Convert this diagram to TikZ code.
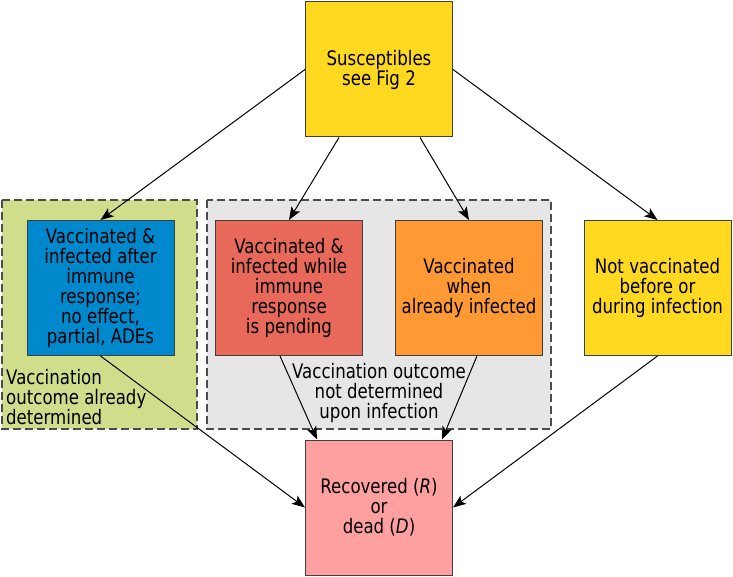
\documentclass[tikz,border=0pt]{standalone}
\usepackage{fontspec}
\setmainfont{DejaVu Sans}[FakeStretch=0.83]
\usetikzlibrary{arrows.meta}

\definecolor{susyellow}{HTML}{FFD820}
\definecolor{vacblue}{HTML}{0088CC}
\definecolor{vacred}{HTML}{E8685A}
\definecolor{vacorange}{HTML}{FF9933}
\definecolor{recpink}{HTML}{FFA0A0}
\definecolor{greenarea}{HTML}{D0DE8C}
\definecolor{grayarea}{HTML}{E6E6E6}

\begin{document}
\begin{tikzpicture}[x=1pt, y=-1pt,
        box/.style={draw=black!75, line width=1pt, minimum width=147pt, minimum height=135pt,
            inner sep=0pt, align=center, font=\fontsize{20}{20}\selectfont},
        arr/.style={-{Stealth[length=13pt, width=10pt, inset=3pt]}, line width=1pt},
        area/.style={draw=black!70, line width=1.3pt, dash pattern=on 8pt off 4pt},
        note/.style={inner sep=0pt, font=\fontsize{20}{20}\selectfont}]
        \useasboundingbox (0, 0) rectangle (733, 577);

        % Draw outcome areas
        \filldraw[fill=greenarea, area] (2, 200) rectangle (197, 429);
        \filldraw[fill=grayarea, area] (207, 200) rectangle (551, 429);

        % Draw boxes
        \node[box, fill=susyellow] (sus) at (379, 69.5) {Susceptibles\\see Fig 2};
        \node[box, fill=vacblue] (after) at (100.5, 288) {Vaccinated \&\\infected after\\immune\\response;\\no effect,\\partial, ADEs};
        \node[box, fill=vacred] (pending) at (289, 288) {Vaccinated \&\\infected while\\immune\\response\\is pending};
        \node[box, fill=vacorange] (when) at (469, 288) {Vaccinated\\when\\already infected};
        \node[box, fill=susyellow] (notvac) at (657.5, 288) {Not vaccinated\\before or\\during infection};
        \node[box, fill=recpink] (rec) at (379, 507.5) {Recovered (\textit{R})\\or\\dead (\textit{D})};

        % Add area labels
        \node[note, anchor=west, align=left] (determined) at (6, 397) {Vaccination\\outcome already\\determined};
        \node[note, align=center] (undetermined) at (379, 393) {Vaccination outcome\\not determined\\upon infection};

        % Draw arrows
        \draw[arr] (sus.west) -- (after.north);
        \draw[arr] ([xshift=-40pt]sus.south) -- (pending.north);
        \draw[arr] ([xshift=41pt]sus.south) -- (when.north);
        \draw[arr] (sus.east) -- (notvac.north);
        \draw[arr] (after.south) -- (rec.west);
        \draw[arr] ([xshift=-9pt]pending.south) -- ([xshift=-62pt]rec.north);
        \draw[arr] ([xshift=8pt]when.south) -- ([xshift=63pt]rec.north);
        \draw[arr] (notvac.south) -- (rec.east);
    \end{tikzpicture}
\end{document}
